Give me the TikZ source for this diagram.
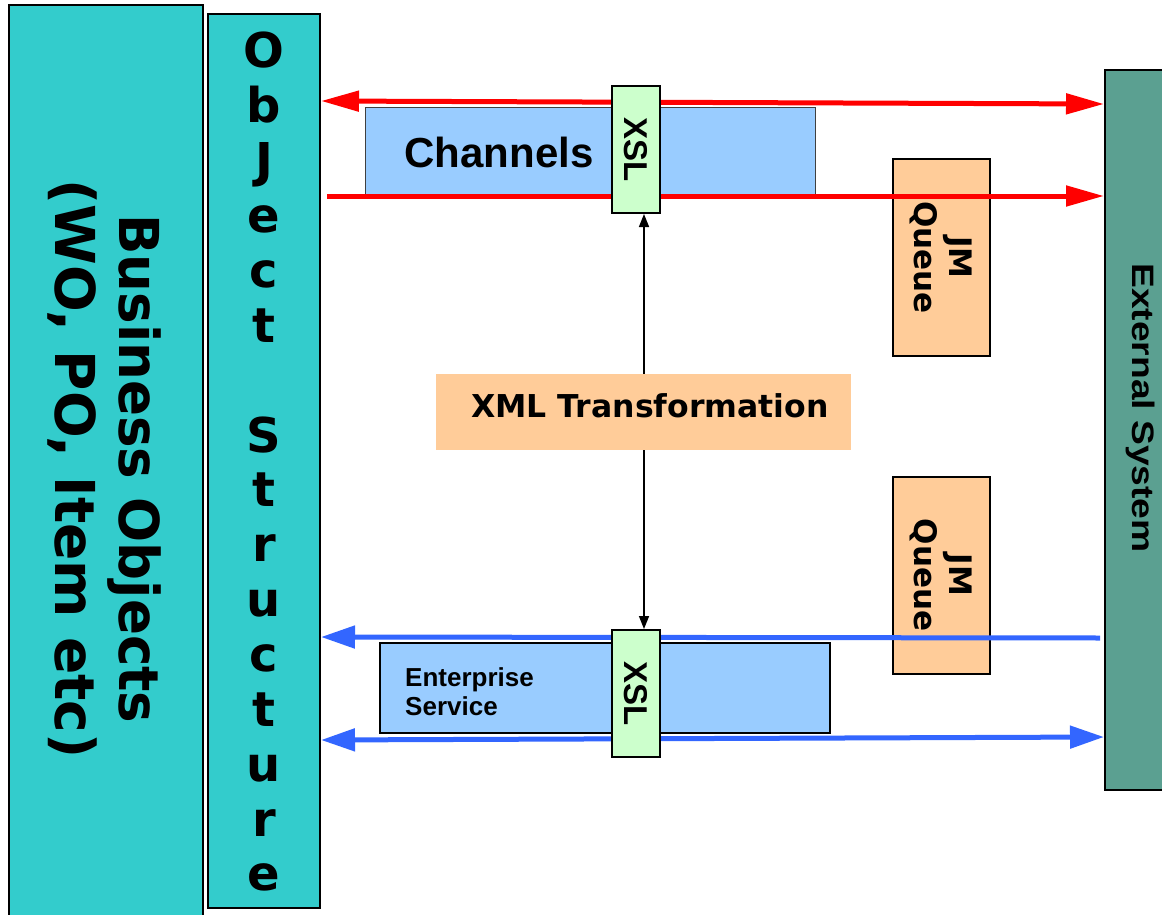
\documentclass[tikz,border=0pt]{standalone}
\usepackage{graphicx}
\usepackage{fontspec}
\setmainfont{Liberation Sans}
\newfontfamily\dvs{DejaVu Sans}
\usetikzlibrary{arrows.meta}
\pgfdeclarelayer{background}
\pgfdeclarelayer{lines}
\pgfsetlayers{background,lines,main}
\definecolor{tealA}{HTML}{33CCCC}
\definecolor{lblue}{HTML}{99CCFF}
\definecolor{lgreen}{HTML}{CCFFCC}
\definecolor{peach}{HTML}{FFCC99}
\definecolor{extc}{HTML}{5BA091}
\definecolor{bluearr}{HTML}{3366FF}
\begin{document}
\begin{tikzpicture}[x=1pt,y=-1pt,
  panel/.style={draw=black, line width=2pt, fill=tealA, inner sep=0pt, rectangle},
  blbox/.style={fill=lblue, inner sep=0pt, rectangle},
  xslbox/.style={draw=black, line width=2pt, fill=lgreen, rotate=-90, minimum width=127pt, minimum height=48pt, inner sep=0pt, font=\bfseries\fontsize{33}{33}\selectfont},
  jmbox/.style={draw=black, line width=2pt, fill=peach, rotate=-90, minimum width=197pt, minimum height=97pt, inner sep=0pt, align=center, font=\dvs\bfseries\fontsize{31}{35}\selectfont},
  osletter/.style={anchor=base, inner sep=0pt, font=\dvs\bfseries\fontsize{48}{48}\selectfont},
  redline/.style={draw=red, line width=5pt},
  blueline/.style={draw=bluearr, line width=5pt},
  rtip/.tip={Triangle[length=38pt,width=20pt]},
  btip/.tip={Triangle[length=34pt,width=22pt]},
  ktip/.tip={Triangle[length=13pt,width=10pt]}
]
\useasboundingbox (0,0) rectangle (1162,915);

\begin{pgfonlayer}{background}
  % left panels
  \node[panel, minimum width=194pt, minimum height=930pt] (bo) at (106,470) {};
  \node[rotate=-90, align=center, inner sep=0pt, font=\dvs\bfseries\fontsize{55}{64}\selectfont] (botxt) at (104,469)
    {\scalebox{0.965}[1]{Business Objects}\\(WO, PO, Item etc)};
  \node[panel, minimum width=112pt, minimum height=894pt] (os) at (264,461) {};
  \foreach \ch/\i in {O/0,b/1,J/2,e/3,c/4,t/5,S/7,t/8,r/9,u/10,c/11,t/12,u/13,r/14,e/15}
    \node[osletter] (os\i) at (264,{68+\i*54.86}) {\ch};

  % channel boxes
  \node[blbox, draw=black!75, line width=1pt, minimum width=450pt, minimum height=88pt] (ch) at (590,152) {};
  \node[inner sep=0pt, font=\bfseries\fontsize{42}{42}\selectfont] (chtxt) at (499,152) {Channels};
  \node[blbox, draw=black, line width=2pt, minimum width=450pt, minimum height=90pt] (es) at (605,688) {};
  \node[anchor=west, align=left, inner sep=0pt, font=\bfseries\fontsize{26}{29}\selectfont] (estxt) at (405,692) {Enterprise\\Service};

  % JM queues
  \node[jmbox] (jm1) at (941.5,257.5) {JM\\Queue};
  \node[jmbox] (jm2) at (941.5,575) {JM\\Queue};

  % external system
  \node[draw=black, line width=2pt, fill=extc, minimum width=70pt, minimum height=720pt, inner sep=0pt] (ext) at (1140,430) {};
  \node[rotate=-90, inner sep=0pt, font=\bfseries\fontsize{31}{31}\selectfont] (exttxt) at (1141,408) {\scalebox{1.2}[1]{External System}};
\end{pgfonlayer}

% XSL boxes and XML transformation
\node[xslbox] (xslT) at (636,149.5) {XSL};
\node[xslbox] (xslB) at (636,693.5) {XSL};

\begin{pgfonlayer}{lines}
  \draw[line width=1.5pt, ktip-ktip] (644,0 |- xslT.east) -- (644,0 |- xslB.west);
  \draw[redline, rtip-rtip] (os.east |- 0,101) -- (ext.west |- 0,104);
  \coordinate (r2s) at (327,196);
  \draw[redline, -rtip] (r2s) -- (ext.west |- r2s);
  \coordinate (b1s) at (1100,638);
  \draw[blueline, -btip] (b1s) -- (os.east |- 0,637);
  \draw[blueline, btip-btip] (os.east |- 0,740) -- (ext.west |- 0,737);
\end{pgfonlayer}

\node[fill=peach, minimum width=415pt, minimum height=76pt, inner sep=0pt] (xml) at (643.5,412) {};
\node[inner sep=0pt, font=\dvs\bfseries\fontsize{31.5}{31.5}\selectfont] (xmltxt) at (650,406) {XML Transformation};
\end{tikzpicture}
\end{document}
